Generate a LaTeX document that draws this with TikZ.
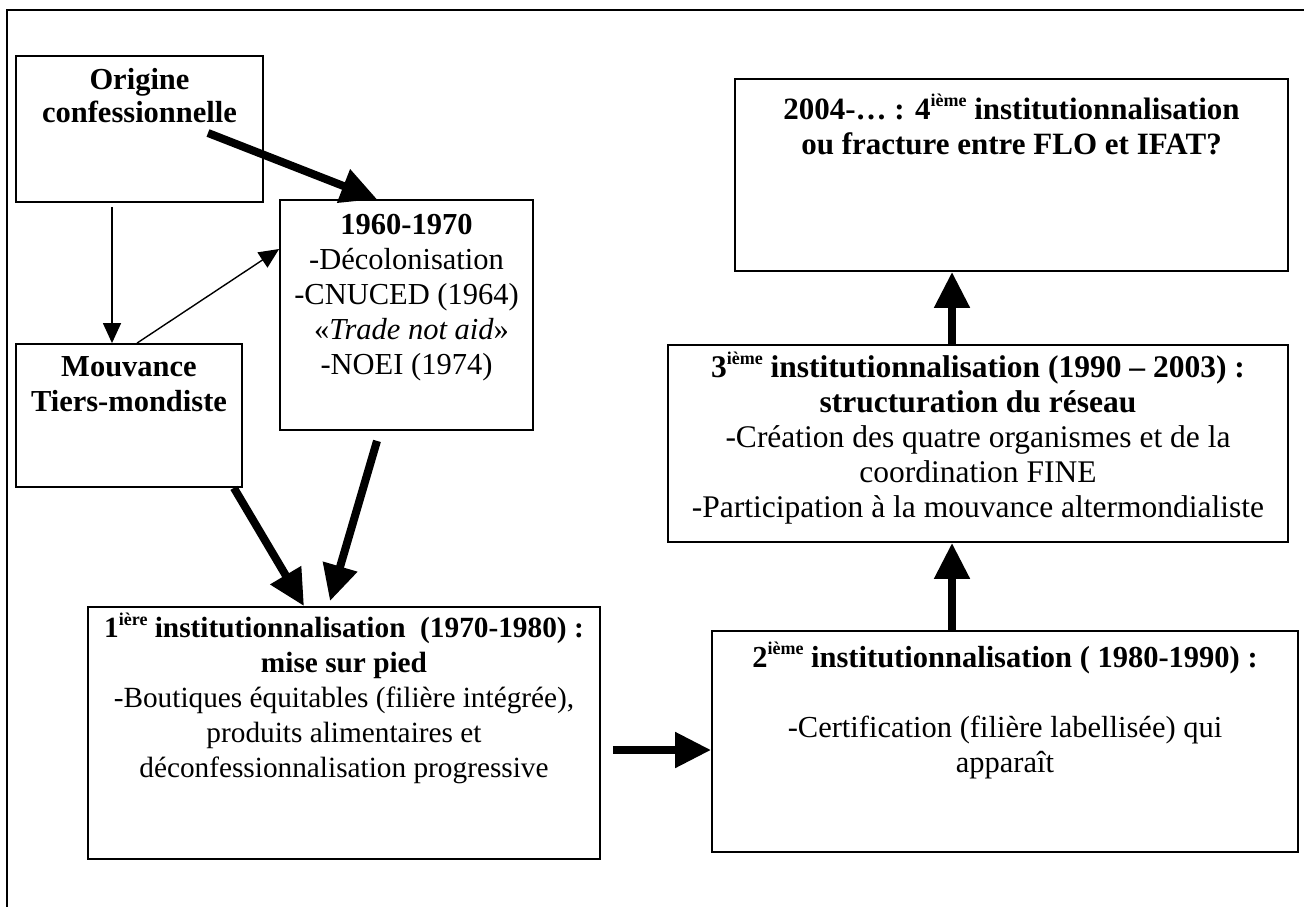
\documentclass[tikz,border=0pt]{standalone}
\usepackage{fontspec}
\setmainfont{Liberation Serif}
\usetikzlibrary{arrows.meta}
\newcommand\sups[1]{\smash{\raisebox{0.42em}{\fontsize{18}{18}\selectfont #1}}}
\begin{document}
\begin{tikzpicture}[x=1pt,y=-1pt,
  box/.style={draw, line width=1.8pt, rectangle, inner sep=0pt},
  txt/.style={anchor=north, align=center, inner sep=0pt},
  bigarrow/.style={line width=8pt, -{Triangle[length=36pt,width=34pt]}},
  thinarrow/.style={line width=1.4pt, -{Triangle[length=20pt,width=18pt]}}]
\useasboundingbox (0,0) rectangle (1304,907);
\fill[white] (0,0) rectangle (1304,907);
\draw[line width=2pt] (7,920) -- (7,10) -- (1320,10);

% boxes
\node[box, minimum width=247pt, minimum height=146pt] (orig) at (139.5,129) {};
\node[box, minimum width=253pt, minimum height=230pt] (dec) at (406.5,315) {};
\node[box, minimum width=226pt, minimum height=143pt] (mouv) at (129,415.5) {};
\node[box, minimum width=512pt, minimum height=252pt] (inst1) at (344,733) {};
\node[box, minimum width=586pt, minimum height=221pt] (inst2) at (1005,741.5) {};
\node[box, minimum width=620pt, minimum height=197pt] (inst3) at (978,443.5) {};
\node[box, minimum width=553pt, minimum height=192pt] (inst4) at (1011.5,175) {};

% texts
\node[txt, yshift=-11.5pt, font=\fontsize{30.5}{33}\selectfont\bfseries] (origT) at (orig.north)
  {\strut Origine\\confessionnelle};
\node[txt, yshift=-10.5pt, font=\fontsize{30.5}{35}\selectfont] (decT) at (dec.north)
  {\strut\textbf{1960-1970}\\-Décolonisation\\-CNUCED (1964)\\\hspace*{10pt}«\textit{Trade not aid}»\\-NOEI (1974)};
\node[txt, yshift=-8.5pt, font=\fontsize{30.5}{35}\selectfont\bfseries] (mouvT) at (mouv.north)
  {\strut Mouvance\\Tiers-mondiste};
\node[txt, yshift=-6.5pt, font=\fontsize{29.3}{35}\selectfont] (inst1T) at (inst1.north)
  {\strut\textbf{1\sups{ière} institutionnalisation\ \ (1970-1980) :}\\\textbf{mise sur pied}\\-Boutiques équitables (filière intégrée),\\produits alimentaires et\\déconfessionnalisation progressive};
\node[txt, yshift=-12.5pt, font=\fontsize{30.5}{35}\selectfont] (inst2T) at (inst2.north)
  {\strut\textbf{2\sups{ième} institutionnalisation ( 1980-1990) :}\\[35pt]-Certification (filière labellisée) qui\\apparaît};
\node[txt, yshift=-8.5pt, font=\fontsize{31.5}{35}\selectfont] (inst3T) at (inst3.north)
  {\strut\textbf{3\sups{ième} institutionnalisation (1990 – 2003) :}\\\textbf{structuration du réseau}\\-Création des quatre organismes et de la\\coordination FINE\\-Participation à la mouvance altermondialiste};
\node[txt, yshift=-16.5pt, font=\fontsize{31}{35}\selectfont\bfseries] (inst4T) at (inst4.north)
  {\strut 2004-… : 4\sups{ième} institutionnalisation\\ou fracture entre FLO et IFAT?};

% connectors
\draw[bigarrow] ([xshift=68.5pt,yshift=-4pt]orig.center) -- ([xshift=-29.5pt]dec.north);
\draw[thinarrow] ([xshift=-27.5pt,yshift=-4pt]orig.south) -- ([xshift=-17pt]mouv.north);
\draw[thinarrow] ([xshift=8pt]mouv.north) -- ([yshift=66pt]dec.west);
\draw[bigarrow] ([xshift=-9pt]mouv.south east) -- ([xshift=-40pt]inst1.north);
\draw[bigarrow] ([xshift=-29.5pt,yshift=-10pt]dec.south) -- ([xshift=-14pt,yshift=5pt]inst1.north);
\draw[bigarrow] ([xshift=12pt,yshift=-17pt]inst1.east) -- ([yshift=-8.5pt]inst2.west);
\draw[bigarrow] ([xshift=-53pt]inst2.north) -- ([xshift=-26pt]inst3.south);
\draw[bigarrow] ([xshift=-26pt]inst3.north) -- ([xshift=-59.5pt]inst4.south);
\end{tikzpicture}
\end{document}
